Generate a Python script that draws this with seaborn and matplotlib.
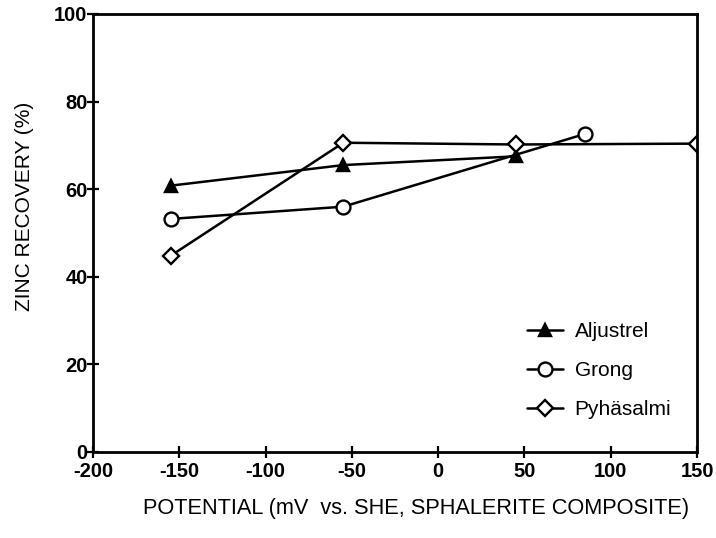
import matplotlib
matplotlib.use("Agg")
import matplotlib.pyplot as plt
import seaborn as sns
import pandas as pd

sns.set_style("ticks")
plt.rcParams['font.family'] = ['Liberation Sans', 'DejaVu Sans']
plt.rcParams['axes.unicode_minus'] = False
plt.rcParams['text.color'] = 'black'
plt.rcParams['axes.labelcolor'] = 'black'
plt.rcParams['xtick.color'] = 'black'
plt.rcParams['ytick.color'] = 'black'
plt.rcParams['axes.edgecolor'] = 'black'

aljustrel_x = [-155, -55, 45]
aljustrel_y = [60.8, 65.5, 67.5]
grong_x = [-155, -55, 85]
grong_y = [53.2, 56.0, 72.6]
pyhasalmi_x = [-155, -55, 45, 150]
pyhasalmi_y = [44.8, 70.6, 70.2, 70.4]

series = [
    ("Aljustrel", aljustrel_x, aljustrel_y, "^", "black", 9),
    ("Grong", grong_x, grong_y, "o", "white", 10),
    ("Pyhäsalmi", pyhasalmi_x, pyhasalmi_y, "D", "white", 8),
]

fig, ax = plt.subplots(figsize=(7.16, 5.38), dpi=100)
fig.subplots_adjust(left=0.13, right=0.9735, bottom=0.16, top=0.974)

for name, xs, ys, mk, mfc, ms in series:
    df = pd.DataFrame({"x": xs, "y": ys})
    sns.lineplot(data=df, x="x", y="y", ax=ax, color="black", lw=1.8,
                 marker=mk, markersize=ms, markerfacecolor=mfc,
                 markeredgecolor="black", markeredgewidth=1.7, label=name,
                 sort=False)

ax.set_xlim(-200, 150)
ax.set_ylim(0, 100)
ax.set_xticks(range(-200, 151, 50))
ax.set_yticks(range(0, 101, 20))
for s in ax.spines.values():
    s.set_visible(True)
    s.set_linewidth(2)
ax.tick_params(direction="inout", length=8, width=1.6, labelsize=14.5)
ax.tick_params(axis="y", pad=0)
ax.tick_params(axis="x", pad=3)
for lab in ax.get_xticklabels() + ax.get_yticklabels():
    lab.set_fontweight("bold")
ax.set_xlabel("POTENTIAL (mV  vs. SHE, SPHALERITE COMPOSITE)", fontsize=15.7)
ax.set_ylabel("ZINC RECOVERY (%)", fontsize=15)
ax.xaxis.set_label_coords(0.535, -0.105)
ax.yaxis.set_label_coords(-0.097, 0.56)

leg = ax.legend(loc="upper left", frameon=False, fontsize=15, handlelength=1.75,
                handletextpad=0.55, labelspacing=0.95, borderpad=0,
                borderaxespad=0, bbox_to_anchor=(0.718, 0.296))

fig.savefig("out.png", dpi=100)
